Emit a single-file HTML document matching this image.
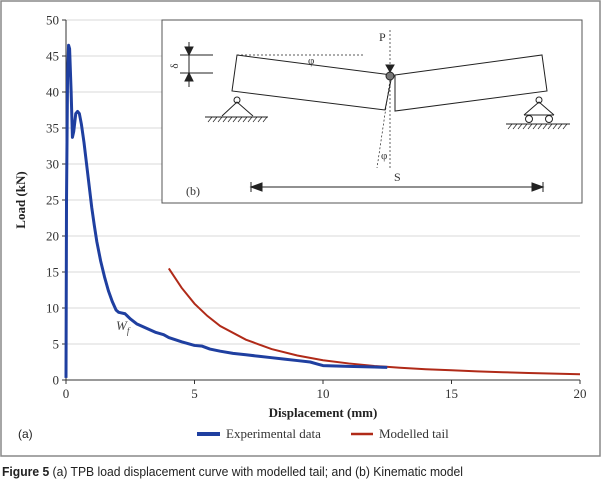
<!DOCTYPE html>
<html><head><meta charset="utf-8"><style>
body{margin:0;background:#fff;width:602px;height:491px;overflow:hidden}
svg{display:block}
.ser{font-family:"Liberation Serif",serif}
</style></head><body>
<svg width="602" height="491" xmlns="http://www.w3.org/2000/svg">
<rect x="1" y="1" width="599" height="455" fill="none" stroke="#888" stroke-width="1.5"/>
<g id="grid"></g>
<g id="axes"></g>
<g id="series"></g>
<text x="116" y="330" class="ser" font-style="italic" font-size="13" fill="#444">W<tspan font-size="9" dy="4">f</tspan></text>
<text x="323" y="417" class="ser" font-weight="bold" font-size="13" text-anchor="middle" fill="#222">Displacement (mm)</text>
<text x="25" y="200" class="ser" font-weight="bold" font-size="13" text-anchor="middle" fill="#222" transform="rotate(-90 25 200)">Load (kN)</text>
<text x="18" y="438" font-family="Liberation Sans,sans-serif" font-size="12" fill="#222">(a)</text>
<g>
<line x1="197" y1="434" x2="220" y2="434" stroke="#1f3fa0" stroke-width="4"/>
<text x="226" y="438" class="ser" font-size="13" fill="#333">Experimental data</text>
<line x1="351" y1="434" x2="373" y2="434" stroke="#b02a18" stroke-width="2.5"/>
<text x="379" y="438" class="ser" font-size="13" fill="#333">Modelled tail</text>
</g>
<text x="2" y="476" font-family="Liberation Sans,sans-serif" font-size="12.5" fill="#222" textLength="461" lengthAdjust="spacingAndGlyphs"><tspan font-weight="bold">Figure 5</tspan> (a) TPB load displacement curve with modelled tail; and (b) Kinematic model</text>
<g fill="none" stroke="#222" stroke-width="1">
<rect x="162" y="20" width="420" height="183" fill="#fff" stroke="#555"/>
<polygon points="237,55 392,75 385,110 232,91"/>
<polygon points="395,75 542,55 547,91 395,111"/>
<line x1="237" y1="55" x2="363" y2="55" stroke-dasharray="2,2" stroke-width="0.7"/>
<line x1="390" y1="30" x2="390" y2="170" stroke-dasharray="2,2" stroke-width="0.7"/>
<line x1="390" y1="80" x2="377" y2="168" stroke-dasharray="2,2" stroke-width="0.7"/>
<circle cx="390" cy="76" r="4" fill="#777"/>
<polygon points="386,65 394,65 390,72" fill="#222"/>
<line x1="180" y1="55" x2="213" y2="55"/><line x1="180" y1="73" x2="213" y2="73"/>
<line x1="189" y1="42" x2="189" y2="87"/>
<polygon points="185,47 193,47 189,55" fill="#222"/><polygon points="185,81 193,81 189,73" fill="#222"/>
<circle cx="237" cy="100" r="3" fill="#fff"/>
<polyline points="222,116 237,102 253,116"/>
<line x1="205" y1="117" x2="268" y2="117"/>
<path d="M208,122l4,-5M213,122l4,-5M218,122l4,-5M223,122l4,-5M228,122l4,-5M233,122l4,-5M238,122l4,-5M243,122l4,-5M248,122l4,-5M253,122l4,-5M258,122l4,-5M263,122l4,-5" stroke-width="0.7"/>
<circle cx="539" cy="100" r="3" fill="#fff"/>
<polyline points="524,115 539,102 554,115"/>
<line x1="524" y1="115" x2="554" y2="115"/>
<circle cx="529" cy="119" r="3.5" fill="#fff"/><circle cx="549" cy="119" r="3.5" fill="#fff"/>
<line x1="506" y1="124" x2="570" y2="124"/>
<path d="M508,129l4,-5M513,129l4,-5M518,129l4,-5M523,129l4,-5M528,129l4,-5M533,129l4,-5M538,129l4,-5M543,129l4,-5M548,129l4,-5M553,129l4,-5M558,129l4,-5M563,129l4,-5" stroke-width="0.7"/>
<line x1="251" y1="187" x2="543" y2="187"/>
<polygon points="251,187 262,183 262,191" fill="#222"/><polygon points="543,187 532,183 532,191" fill="#222"/>
<line x1="251" y1="182" x2="251" y2="192"/><line x1="543" y1="182" x2="543" y2="192"/>
<g stroke="none" fill="#333" class="ser" font-size="12">
<text x="379" y="41">P</text>
<text x="308" y="64" font-size="11">φ</text>
<text x="381" y="159" font-size="11">φ</text>
<text x="394" y="181">S</text>
<text x="186" y="195">(b)</text>
<text x="178" y="66" font-size="11" transform="rotate(-90 178 66)" text-anchor="middle">δ</text>
</g>
</g>
</svg>
<script>
const xTicks=[0,5,10,15,20];
const yTicks=[0,5,10,15,20,25,30,35,40,45,50];
const expX=[0,0.02,0.06,0.1,0.14,0.2,0.25,0.3,0.38,0.45,0.52,0.6,0.7,0.8,0.9,1.0,1.1,1.2,1.35,1.5,1.65,1.8,1.95,2.05,2.3,2.5,2.75,3.0,3.5,3.8,4.0,4.5,5.0,5.3,5.6,6.0,6.5,7.0,7.5,8.0,8.5,9.0,9.5,9.8,10.0,11.0,12.0,12.5];
const expY=[0.3,25,42,46.5,46,40,33.7,34.5,37,37.3,37,35.5,33,30,27,24,21.5,19.2,16.5,14.3,12.4,10.9,9.7,9.4,9.2,8.5,7.8,7.4,6.6,6.3,5.9,5.3,4.8,4.7,4.3,4.0,3.7,3.5,3.3,3.1,2.9,2.7,2.5,2.2,2.0,1.9,1.8,1.75];
const tailX=[4,4.5,5,5.5,6,7,8,9,10,11,12,13,14,15,16,17,18,19,20];
const tailY=[15.5,12.8,10.6,8.9,7.5,5.6,4.3,3.4,2.75,2.3,1.95,1.7,1.5,1.35,1.2,1.08,0.98,0.88,0.8];
const X0=66,XS=25.7,Y0=380,YS=7.2;
const sx=v=>X0+v*XS, sy=v=>Y0-v*YS;
const NS='http://www.w3.org/2000/svg';
function mk(t,a,p){const e=document.createElementNS(NS,t);for(const k in a)e.setAttribute(k,a[k]);p.appendChild(e);return e;}
const grid=document.getElementById('grid'),axes=document.getElementById('axes'),ser=document.getElementById('series');
yTicks.forEach(v=>{
 if(v>0){const g=mk('line',{x1:sx(0),x2:sx(20),y1:sy(v),y2:sy(v),stroke:'#d8d8d8','stroke-width':1},grid);
 
 }
 const t=mk('line',{x1:sx(0)-4,x2:sx(0),y1:sy(v),y2:sy(v),stroke:'#333'},axes);
 
 
 const l=mk('text',{x:sx(0)-7,y:sy(v)+4.5,'text-anchor':'end','font-size':13,fill:'#333','font-family':'Liberation Serif,serif'},axes);
 l.textContent=v;
 
 
});
xTicks.forEach(v=>{
 const t=mk('line',{x1:sx(v),x2:sx(v),y1:Y0,y2:Y0+4,stroke:'#333'},axes);
 
 
 const l=mk('text',{x:sx(v),y:Y0+18,'text-anchor':'middle','font-size':13,fill:'#333','font-family':'Liberation Serif,serif'},axes);
 l.textContent=v;
 
 
});
const ax=mk('path',{d:`M${sx(0)},${sy(50)}V${Y0}H${sx(20)}`,fill:'none',stroke:'#333'},axes);


const tail=mk('polyline',{points:tailX.map((x,i)=>sx(x)+','+sy(tailY[i])).join(' '),fill:'none',stroke:'#b02a18','stroke-width':2},ser);


const exp=mk('polyline',{points:expX.map((x,i)=>sx(x)+','+sy(expY[i])).join(' '),fill:'none',stroke:'#1f3fa0','stroke-width':3,'stroke-linejoin':'round'},ser);


</script>
</body></html>
